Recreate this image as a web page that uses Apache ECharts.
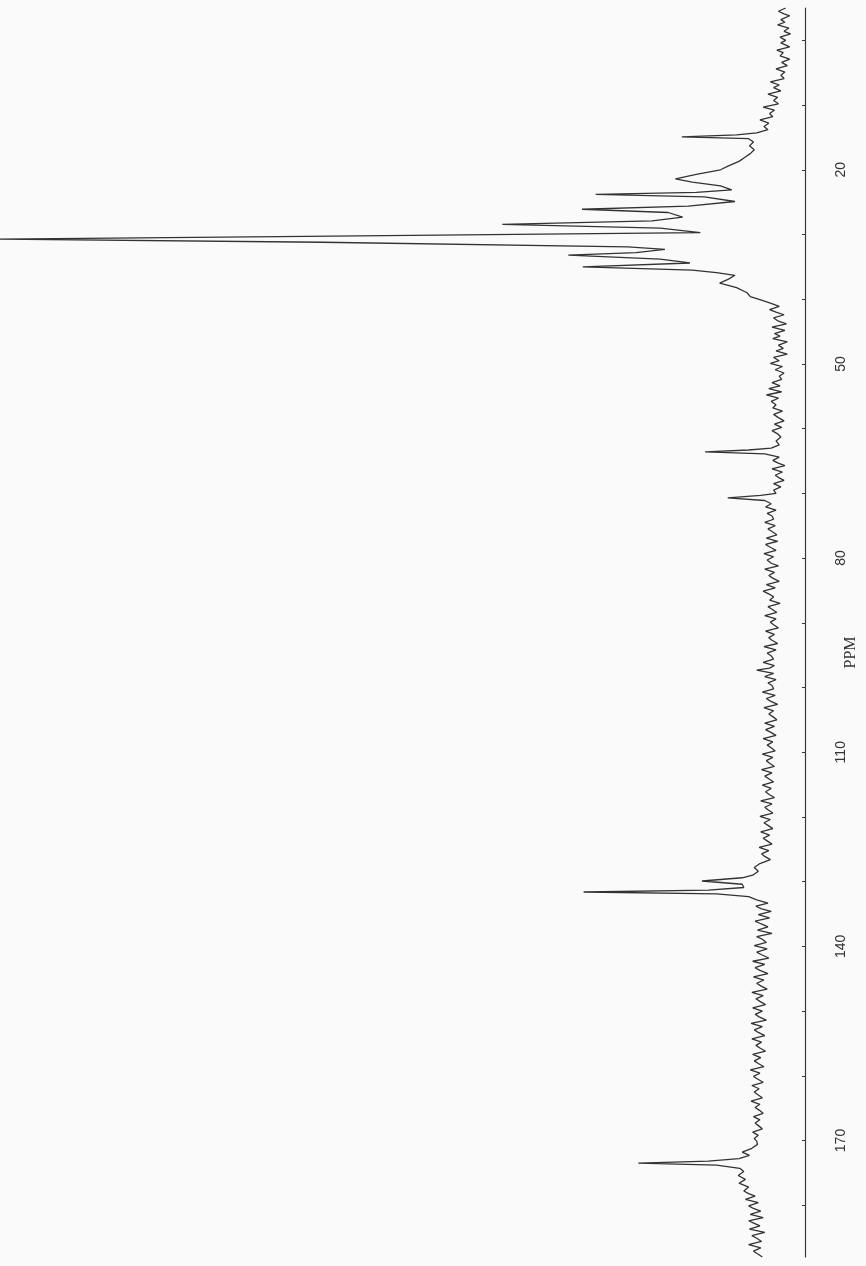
<!DOCTYPE html>
<html>
<head>
<meta charset="utf-8">
<title>13C NMR</title>
<script src="https://cdn.jsdelivr.net/npm/echarts@6/dist/echarts.min.js"></script>
<style>
  html, body { margin: 0; padding: 0; background: #fafafa; }
  #main { width: 866px; height: 1266px; }
</style>
</head>
<body>
<div id="main"></div>
<script>
// 13C 谱图（页面旋转 90°：化学位移纵向，强度向左）

// [ppm, 强度]
var highField = [
  [-5.0,2.4],[-4.5,3.3],[-4.1,2.6],[-3.8,1.9],[-3.2,3.0],[-2.8,2.5],[-2.4,3.4],[-1.9,2.0],[-1.4,2.6],
  [-1.0,1.8],[-0.5,3.1],[0.0,2.4],[0.4,3.0],[1.0,1.9],[1.5,3.5],[1.9,2.7],[2.4,3.1],[2.9,1.9],
  [3.4,2.9],[3.9,2.2],[4.4,3.6],[4.9,2.5],[5.4,3.0],[5.9,2.6],[6.4,4.3],[6.9,3.2],[7.3,3.9],
  [7.8,3.0],[8.3,4.6],[8.8,3.4],[9.3,3.9],[9.8,3.3],[10.3,5.2],[10.8,3.8],[11.3,4.4],[11.8,4.0],
  [12.3,5.6],[12.8,4.5],[13.3,5.1],[13.8,4.6],[14.3,6.0],[14.6,8.5],[14.9,15.3],[15.2,7.0],
  [15.7,6.4],[16.3,6.9],[16.9,6.3],[17.5,6.8],[18.1,7.5],[18.7,8.2],[19.4,9.5],[20.0,10.5],
  [20.7,13.5],[21.4,16.1],[21.9,14.0],[22.5,10.5],[23.1,9.1],[23.5,13.5],[23.8,26.0],[24.2,12.5],
  [24.9,8.7],[25.6,14.5],[26.1,27.7],[26.6,17.0],[27.3,15.2],[27.9,19.0],[28.45,37.6],[29.0,18.0],
  [29.7,13.0],[30.3,62.0],[30.7,100],[31.2,60.0],[31.9,22.0],[32.3,17.4],[32.8,21.0],[33.2,29.4],
  [33.8,18.0],[34.4,14.3],[35.0,27.6],[35.5,14.0],[35.9,11.0],[36.3,8.7],[36.9,9.5],[37.5,10.6],
  [38.2,8.5],[39.0,7.2],[39.6,6.8],[40.1,5.5],[40.6,4.3]
];

var midField = [
  [41.1,3.2],[41.6,4.4],[42.0,3.6],[42.4,2.6],[42.9,3.9],[43.4,3.3],[43.8,2.3],[44.3,4.1],
  [44.8,2.5],[45.3,3.8],[45.7,3.1],[46.1,4.0],[46.6,2.2],[47.1,3.3],[47.6,2.7],[48.0,3.6],
  [48.5,2.2],[49.0,3.9],[49.5,3.2],[49.9,4.3],[50.4,2.8],[50.9,3.7],[51.4,2.6],[51.9,3.2],
  [52.4,2.9],[52.9,4.1],[53.4,3.1],[53.8,4.5],[54.3,2.9],[54.8,4.8],[55.3,3.3],[55.8,4.2],
  [56.3,3.6],[56.8,4.0],[57.3,2.8],[57.8,3.9],[58.3,3.3],[58.8,2.6],[59.3,3.8],[59.8,2.9],
  [60.3,4.1],[60.8,3.4],[61.3,3.0],[61.9,3.6],[62.5,3.2],[63.0,4.2],[63.3,7.0],[63.6,12.4],
  [63.9,5.0],[64.4,3.2],[64.9,4.0],[65.3,3.4],[65.7,2.5],[66.2,4.1],[66.7,2.8],[67.2,3.7],
  [67.6,3.2],[68.0,2.6],[68.5,3.9],[69.0,3.0],[69.5,3.9],[70.0,3.6],[70.3,5.5],[70.7,9.6],
  [71.1,5.0],[71.6,4.2],[72.1,4.9],[72.6,3.6],[73.1,4.7],[73.5,4.1],[74.0,3.9],[74.5,5.0],
  [75.0,3.7],[75.5,4.6],[75.9,4.1],[76.4,3.5],[76.9,4.8]
];

var baseline = [
  [77.4,3.4],[77.9,4.9],[78.4,4.2],[78.8,3.6],[79.3,5.1],[79.8,3.9],[80.3,4.7],[80.8,4.2],
  [81.2,3.3],[81.7,5.0],[82.2,3.8],[82.7,4.5],[83.1,4.0],[83.6,3.2],[84.1,4.8],[84.6,3.7],
  [85.1,5.2],[85.6,4.4],[86.0,3.9],[86.5,4.4],[87.0,3.1],[87.5,4.6],[87.9,4.1],[88.4,3.5],
  [88.9,5.0],[89.4,3.6],[89.9,4.3],[90.3,3.9],[90.8,3.3],[91.3,4.9],[91.8,3.8],[92.3,4.5],
  [92.7,4.1],[93.2,3.4],[93.7,5.1],[94.2,3.6],[94.7,4.7],[95.1,4.2],[95.6,3.9],[96.1,5.2],
  [96.6,3.8],[97.0,4.4],[97.3,6.0],[97.8,3.9],[98.3,5.0],[98.8,3.6],[99.3,4.6],[99.7,4.1],
  [100.2,3.9],[100.7,5.3],[101.2,3.7],[101.7,4.8],[102.1,4.3],[102.6,3.4],[103.1,5.1],[103.6,3.9],
  [104.1,4.5],[104.5,4.0],[105.0,3.5],[105.5,5.0],[106.0,3.8],[106.5,4.9],[106.9,4.3],[107.4,3.6],
  [107.9,5.2],[108.4,4.0],[108.9,4.7],[109.3,4.2],[109.8,3.7],[110.3,5.3],[110.8,4.0],[111.3,4.8],
  [111.7,4.4],[112.2,3.8],[112.7,5.4],[113.2,4.1],[113.7,5.0],[114.1,4.5],[114.6,3.9],[115.1,5.3],
  [115.6,4.2],[116.1,4.9],[116.5,4.5],[117.0,3.8],[117.5,5.5],[118.0,4.1],[118.5,5.0],[118.9,4.6],
  [119.4,4.0],[119.9,5.6],[120.4,4.3],[120.9,5.1],[121.3,4.6],[121.8,4.0],[122.3,5.5],[122.8,4.4],
  [123.3,5.2],[123.7,4.7],[124.2,4.1],[124.7,5.7],[125.2,4.5],[125.7,5.4],[126.1,5.0],[126.6,4.3]
];

var aromatic = [
  [127.2,5.6],[127.8,6.3],[128.4,5.8],[129.0,6.5],[129.4,7.8],[129.9,12.8],[130.4,7.8],[130.9,7.6],
  [131.3,12.0],[131.6,27.5],[131.9,11.0],[132.3,7.0],[132.8,6.0],[133.3,4.6],[133.8,6.1],[134.2,5.4],
  [134.6,4.2],[135.1,5.8],[135.6,4.4],[136.1,6.2],[136.5,5.5],[137.0,4.6],[137.5,5.9],[138.0,4.1],
  [138.5,6.0],[138.9,5.3],[139.4,4.8],[139.9,6.3],[140.4,4.7],[140.9,6.0],[141.3,5.4],[141.8,4.5],
  [142.3,6.5],[142.8,5.0],[143.3,6.2],[143.7,5.6],[144.2,4.6],[144.7,6.4],[145.2,5.1],[145.7,6.0],
  [146.1,5.5],[146.6,4.7],[147.1,6.6],[147.6,5.2],[148.1,6.1],[148.5,5.6],[149.0,4.9],[149.5,6.5],
  [150.0,5.3],[150.5,6.2],[150.9,5.7],[151.4,4.8],[151.9,6.7],[152.4,5.3],[152.9,6.3],[153.3,5.8],
  [153.8,5.0],[154.3,6.6],[154.8,5.4],[155.3,6.1],[155.7,5.6],[156.2,4.9],[156.7,6.5],[157.2,5.5],
  [157.7,6.3],[158.1,5.8],[158.6,5.1],[159.1,6.8],[159.6,5.6],[160.1,6.4],[160.5,5.9],[161.0,5.2],
  [161.5,6.6],[162.0,5.7],[162.5,6.3],[162.9,5.9],[163.4,5.3],[163.9,6.7],[164.4,5.6],[164.9,6.2]
];

var carbonyl = [
  [165.3,5.7],[165.8,5.2],[166.3,6.4],[166.8,5.6],[167.3,6.2],[167.7,5.8],[168.2,5.3],[168.7,6.5],
  [169.2,5.8],[169.7,6.3],[170.1,6.0],[170.6,5.9],[171.2,6.6],[171.8,7.8],[172.3,6.9],[172.8,8.2],
  [173.2,12.0],[173.5,20.7],[173.8,11.0],[174.3,8.1],[174.8,7.6],[175.4,8.3],[176.0,7.4],[176.6,8.2],
  [177.2,7.0],[177.8,7.6],[178.2,7.0],[178.6,6.2],[179.1,7.4],[179.6,5.8],[180.1,7.0],[180.5,6.4],
  [180.9,5.5],[181.4,6.8],[181.9,5.2],[182.4,7.0],[182.8,6.3],[183.2,5.6],[183.7,6.9],[184.2,5.0],
  [184.7,6.6],[185.1,6.0],[185.6,5.4],[186.1,7.0],[186.6,5.5],[187.1,6.4],[187.5,5.9],[188.0,5.3]
];

var tickValues = [0, 10, 20, 30, 40, 50, 60, 70, 80, 90, 100, 110, 120, 130, 140, 150, 160, 170, 180];
var labelValues = [20, 50, 80, 110, 140, 170];

var spectrum = highField.concat(midField, baseline, aromatic, carbonyl).map(function (p) {
    return [p[1], p[0]];
});

var myChart = echarts.init(document.getElementById('main'));

var option = {
    backgroundColor: '#fafafa',
    animation: false,
    grid: {
        left: 0,
        right: 61,
        top: 8,
        bottom: 9,
        outerBoundsMode: 'none'
    },
    xAxis: {
        type: 'value',
        inverse: true,
        min: 0,
        max: 100,
        show: false
    },
    yAxis: {
        type: 'value',
        inverse: true,
        position: 'right',
        min: -5,
        max: 188,
        name: 'PPM',
        nameLocation: 'middle',
        nameRotate: 90,
        nameGap: 38,
        nameMoveOverlap: false,
        nameTextStyle: {
            fontFamily: 'Liberation Serif',
            fontSize: 16,
            color: '#333',
            padding: [0, 40, 0, 0]
        },
        axisLine: {
            show: true,
            lineStyle: { color: '#3a3a3a', width: 1.2 }
        },
        axisTick: {
            show: true,
            inside: true,
            length: 3,
            customValues: tickValues,
            lineStyle: { color: '#3a3a3a' }
        },
        axisLabel: {
            rotate: 90,
            margin: 29,
            fontSize: 14,
            fontFamily: 'Liberation Sans',
            color: '#333',
            customValues: labelValues
        },
        splitLine: { show: false }
    },
    series: [
        {
            type: 'line',
            data: spectrum,
            showSymbol: false,
            smooth: false,
            lineStyle: { color: '#333', width: 1.3 }
        }
    ]
};

myChart.setOption(option);
</script>
</body>
</html>
